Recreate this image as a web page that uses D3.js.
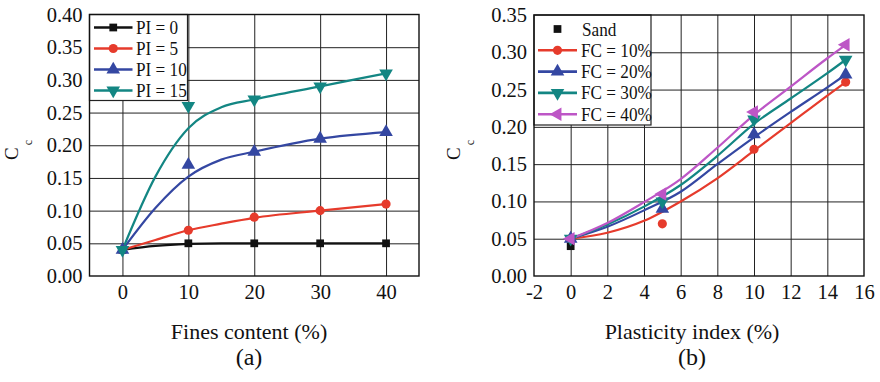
<!DOCTYPE html>
<html>
<head>
<meta charset="utf-8">
<script src="https://cdn.jsdelivr.net/npm/d3@7/dist/d3.min.js"></script>
<style>
  body { margin: 0; background: #fff; }
  svg text, svg tspan { font-family: "Liberation Serif", serif; }
</style>
</head>
<body>
<svg id="chart" width="880" height="382"></svg>
<script>
// ---------- Panel (a): Cc vs fines content ----------
const finesContent = [0, 10, 20, 30, 40];
const ccPI0  = [0.04, 0.05, 0.05, 0.05, 0.05];
const ccPI5  = [0.04, 0.07, 0.09, 0.10, 0.11];
const ccPI10 = [0.04, 0.17, 0.19, 0.21, 0.22];
const ccPI15 = [0.04, 0.26, 0.27, 0.29, 0.31];
// trend curves for panel (a)
const trendFC    = [0, 5, 10, 15, 20, 30, 40];
const trendPI0   = [0.04, 0.046, 0.049, 0.050, 0.050, 0.050, 0.050];
const trendPI5   = [0.04, 0.055, 0.070, 0.080, 0.089, 0.100, 0.110];
const trendPI10  = [0.04, 0.104, 0.152, 0.178, 0.190, 0.210, 0.220];
const trendPI15  = [0.04, 0.152, 0.226, 0.258, 0.270, 0.290, 0.310];
const ticksA_x = [0, 10, 20, 30, 40];
const ticksA_y = [0, 0.05, 0.10, 0.15, 0.20, 0.25, 0.30, 0.35, 0.40];

// ---------- Panel (b): Cc vs plasticity index ----------
const plasticityIndex = [0, 5, 10, 15];
const sandPI = [0];
const sandCc = [0.04];
const ccFC10 = [0.05, 0.07, 0.17, 0.26];
const ccFC20 = [0.05, 0.09, 0.19, 0.27];
const ccFC30 = [0.05, 0.10, 0.21, 0.29];
const ccFC40 = [0.05, 0.11, 0.22, 0.31];
// trend curves for panel (b)
const trendPI   = [0, 2, 4, 6, 8, 10, 12, 14, 15];
const trendFC10 = [0.05, 0.058, 0.074, 0.100, 0.131, 0.168, 0.205, 0.242, 0.260];
const trendFC20 = [0.05, 0.066, 0.088, 0.113, 0.150, 0.186, 0.220, 0.253, 0.270];
const trendFC30 = [0.05, 0.069, 0.093, 0.122, 0.161, 0.204, 0.238, 0.272, 0.290];
const trendFC40 = [0.05, 0.071, 0.099, 0.130, 0.172, 0.216, 0.254, 0.292, 0.310];
const ticksB_x = [-2, 0, 2, 4, 6, 8, 10, 12, 14, 16];
const ticksB_y = [0, 0.05, 0.10, 0.15, 0.20, 0.25, 0.30, 0.35];

const colors = { black: "#111111", red: "#e63b2c", blue: "#3447a2", teal: "#138683", magenta: "#bd56c6" };
const SERIF = '"Liberation Serif"';

const svg = d3.select("#chart");

function markerPath(kind) {
  const s = {
    square: d3.symbol(d3.symbolSquare, 60),
    circle: d3.symbol(d3.symbolCircle, 66),
    up: d3.symbol(d3.symbolTriangle, 80),
    down: d3.symbol(d3.symbolTriangle, 80),
    left: d3.symbol(d3.symbolTriangle, 80)
  }[kind];
  return s();
}
const markerRotate = { square: 0, circle: 0, up: 0, down: 180, left: -90 };
// plain hyphen for negative tick values
const intFmt = d => String(d);

function styleText(sel, size) {
  return sel.attr("font-size", size).style("font-family", SERIF).attr("fill", "#111");
}

function panel(cfg) {
  const g = svg.append("g");
  const x = d3.scaleLinear().domain(cfg.xDomain).range([cfg.left, cfg.right]);
  const y = d3.scaleLinear().domain(cfg.yDomain).range([cfg.bottom, cfg.top]);

  // grid lines
  g.append("g")
    .attr("transform", `translate(${cfg.left},0)`)
    .call(d3.axisLeft(y).tickValues(cfg.yTicks.slice(1, -1)).tickSize(-(cfg.right - cfg.left)).tickFormat(""))
    .call(a => a.select(".domain").remove())
    .call(a => a.selectAll("line").attr("stroke", "#222").attr("stroke-width", 1));
  g.append("g")
    .attr("transform", `translate(0,${cfg.bottom})`)
    .call(d3.axisBottom(x).tickValues(cfg.xGrid).tickSize(-(cfg.bottom - cfg.top)).tickFormat(""))
    .call(a => a.select(".domain").remove())
    .call(a => a.selectAll("line").attr("stroke", "#222").attr("stroke-width", 1));

  // tick labels
  g.append("g")
    .attr("transform", `translate(${cfg.left},0)`)
    .call(d3.axisLeft(y).tickValues(cfg.yTicks).tickSize(0).tickPadding(7).tickFormat(d3.format(".2f")))
    .attr("font-family", null).attr("font-size", null)
    .call(a => a.select(".domain").remove())
    .call(a => styleText(a.selectAll("text"), 20.5));
  g.append("g")
    .attr("transform", `translate(0,${cfg.bottom})`)
    .call(d3.axisBottom(x).tickValues(cfg.xTicks).tickSize(0).tickPadding(8).tickFormat(intFmt))
    .attr("font-family", null).attr("font-size", null)
    .call(a => a.select(".domain").remove())
    .call(a => styleText(a.selectAll("text"), 20.5));

  // trend curves
  const line = d3.line().x(d => x(d[0])).y(d => y(d[1])).curve(d3.curveMonotoneX);
  cfg.series.forEach(s => {
    if (!s.trendY) return;
    g.append("path")
      .attr("d", line(s.trendX.map((v, i) => [v, s.trendY[i]])))
      .attr("fill", "none").attr("stroke", s.color).attr("stroke-width", 2.2);
  });
  // markers
  cfg.series.forEach(s => {
    g.selectAll(null).data(s.x.map((v, i) => [v, s.y[i]])).enter().append("path")
      .attr("d", markerPath(s.marker))
      .attr("transform", d => `translate(${x(d[0])},${y(d[1])}) rotate(${markerRotate[s.marker]})`)
      .attr("fill", s.color);
  });

  // legend
  const L = cfg.legend;
  g.append("rect").attr("x", L.x).attr("y", L.y).attr("width", L.w).attr("height", L.h)
    .attr("fill", "#fff").attr("stroke", "#222").attr("stroke-width", 1.2);
  cfg.series.forEach((s, i) => {
    const cy = L.y + L.first + i * L.step;
    if (s.trendY) {
      g.append("line").attr("x1", L.x + L.lx1).attr("x2", L.x + L.lx2).attr("y1", cy).attr("y2", cy)
        .attr("stroke", s.color).attr("stroke-width", 2.6);
    }
    g.append("path").attr("d", markerPath(s.marker))
      .attr("transform", `translate(${L.x + (L.lx1 + L.lx2) / 2},${cy}) rotate(${markerRotate[s.marker]})`)
      .attr("fill", s.color);
    styleText(g.append("text")
      .attr("transform", `translate(${L.x + (s.trendY ? L.tx : L.tx + 1)},${cy + 6.5}) scale(1,1.12)`), 17.2)
      .text(s.name);
  });

  // plot frame
  g.append("rect").attr("x", cfg.left).attr("y", cfg.top)
    .attr("width", cfg.right - cfg.left).attr("height", cfg.bottom - cfg.top)
    .attr("fill", "none").attr("stroke", "#111").attr("stroke-width", 1.4);

  // axis titles
  const yl = styleText(g.append("text")
    .attr("transform", `translate(${cfg.yLabelX},160) rotate(-90)`), 19);
  yl.append("tspan").text("C");
  yl.append("tspan").attr("font-size", 12).attr("dx", 2).attr("dy", 14).text("c");
  styleText(g.append("text").attr("x", cfg.titleX).attr("y", 339).attr("text-anchor", "middle"), 22)
    .text(cfg.xTitle);
  styleText(g.append("text").attr("x", cfg.titleX).attr("y", 365).attr("text-anchor", "middle"), 24)
    .text(cfg.tag);
}

panel({
  left: 89.5, right: 419, top: 14.5, bottom: 276,
  xDomain: [-5, 45], yDomain: [0, 0.40],
  xTicks: ticksA_x, xGrid: ticksA_x, yTicks: ticksA_y,
  yLabelX: 17.5, titleX: 249, xTitle: "Fines content (%)", tag: "(a)",
  legend: { x: 89.5, y: 14.5, w: 98, h: 86, first: 13, step: 21, lx1: 4.5, lx2: 43, tx: 46.5 },
  series: [
    { name: "PI = 0",  color: colors.black, marker: "square", x: finesContent, y: ccPI0,  trendX: trendFC, trendY: trendPI0 },
    { name: "PI = 5",  color: colors.red,   marker: "circle", x: finesContent, y: ccPI5,  trendX: trendFC, trendY: trendPI5 },
    { name: "PI = 10", color: colors.blue,  marker: "up",     x: finesContent, y: ccPI10, trendX: trendFC, trendY: trendPI10 },
    { name: "PI = 15", color: colors.teal,  marker: "down",   x: finesContent, y: ccPI15, trendX: trendFC, trendY: trendPI15 }
  ]
});

panel({
  left: 534, right: 864, top: 15, bottom: 276,
  xDomain: [-2, 16], yDomain: [0, 0.35],
  xTicks: ticksB_x, xGrid: ticksB_x.slice(1, -1), yTicks: ticksB_y,
  yLabelX: 460, titleX: 692, xTitle: "Plasticity index (%)", tag: "(b)",
  legend: { x: 534, y: 15, w: 117, h: 110, first: 14, step: 21.3, lx1: 4, lx2: 43, tx: 47 },
  series: [
    { name: "Sand",      color: colors.black,   marker: "square", x: sandPI, y: sandCc },
    { name: "FC = 10%",  color: colors.red,     marker: "circle", x: plasticityIndex, y: ccFC10, trendX: trendPI, trendY: trendFC10 },
    { name: "FC = 20%",  color: colors.blue,    marker: "up",     x: plasticityIndex, y: ccFC20, trendX: trendPI, trendY: trendFC20 },
    { name: "FC = 30%",  color: colors.teal,    marker: "down",   x: plasticityIndex, y: ccFC30, trendX: trendPI, trendY: trendFC30 },
    { name: "FC = 40%",  color: colors.magenta, marker: "left",   x: plasticityIndex, y: ccFC40, trendX: trendPI, trendY: trendFC40 }
  ]
});
</script>
</body>
</html>
